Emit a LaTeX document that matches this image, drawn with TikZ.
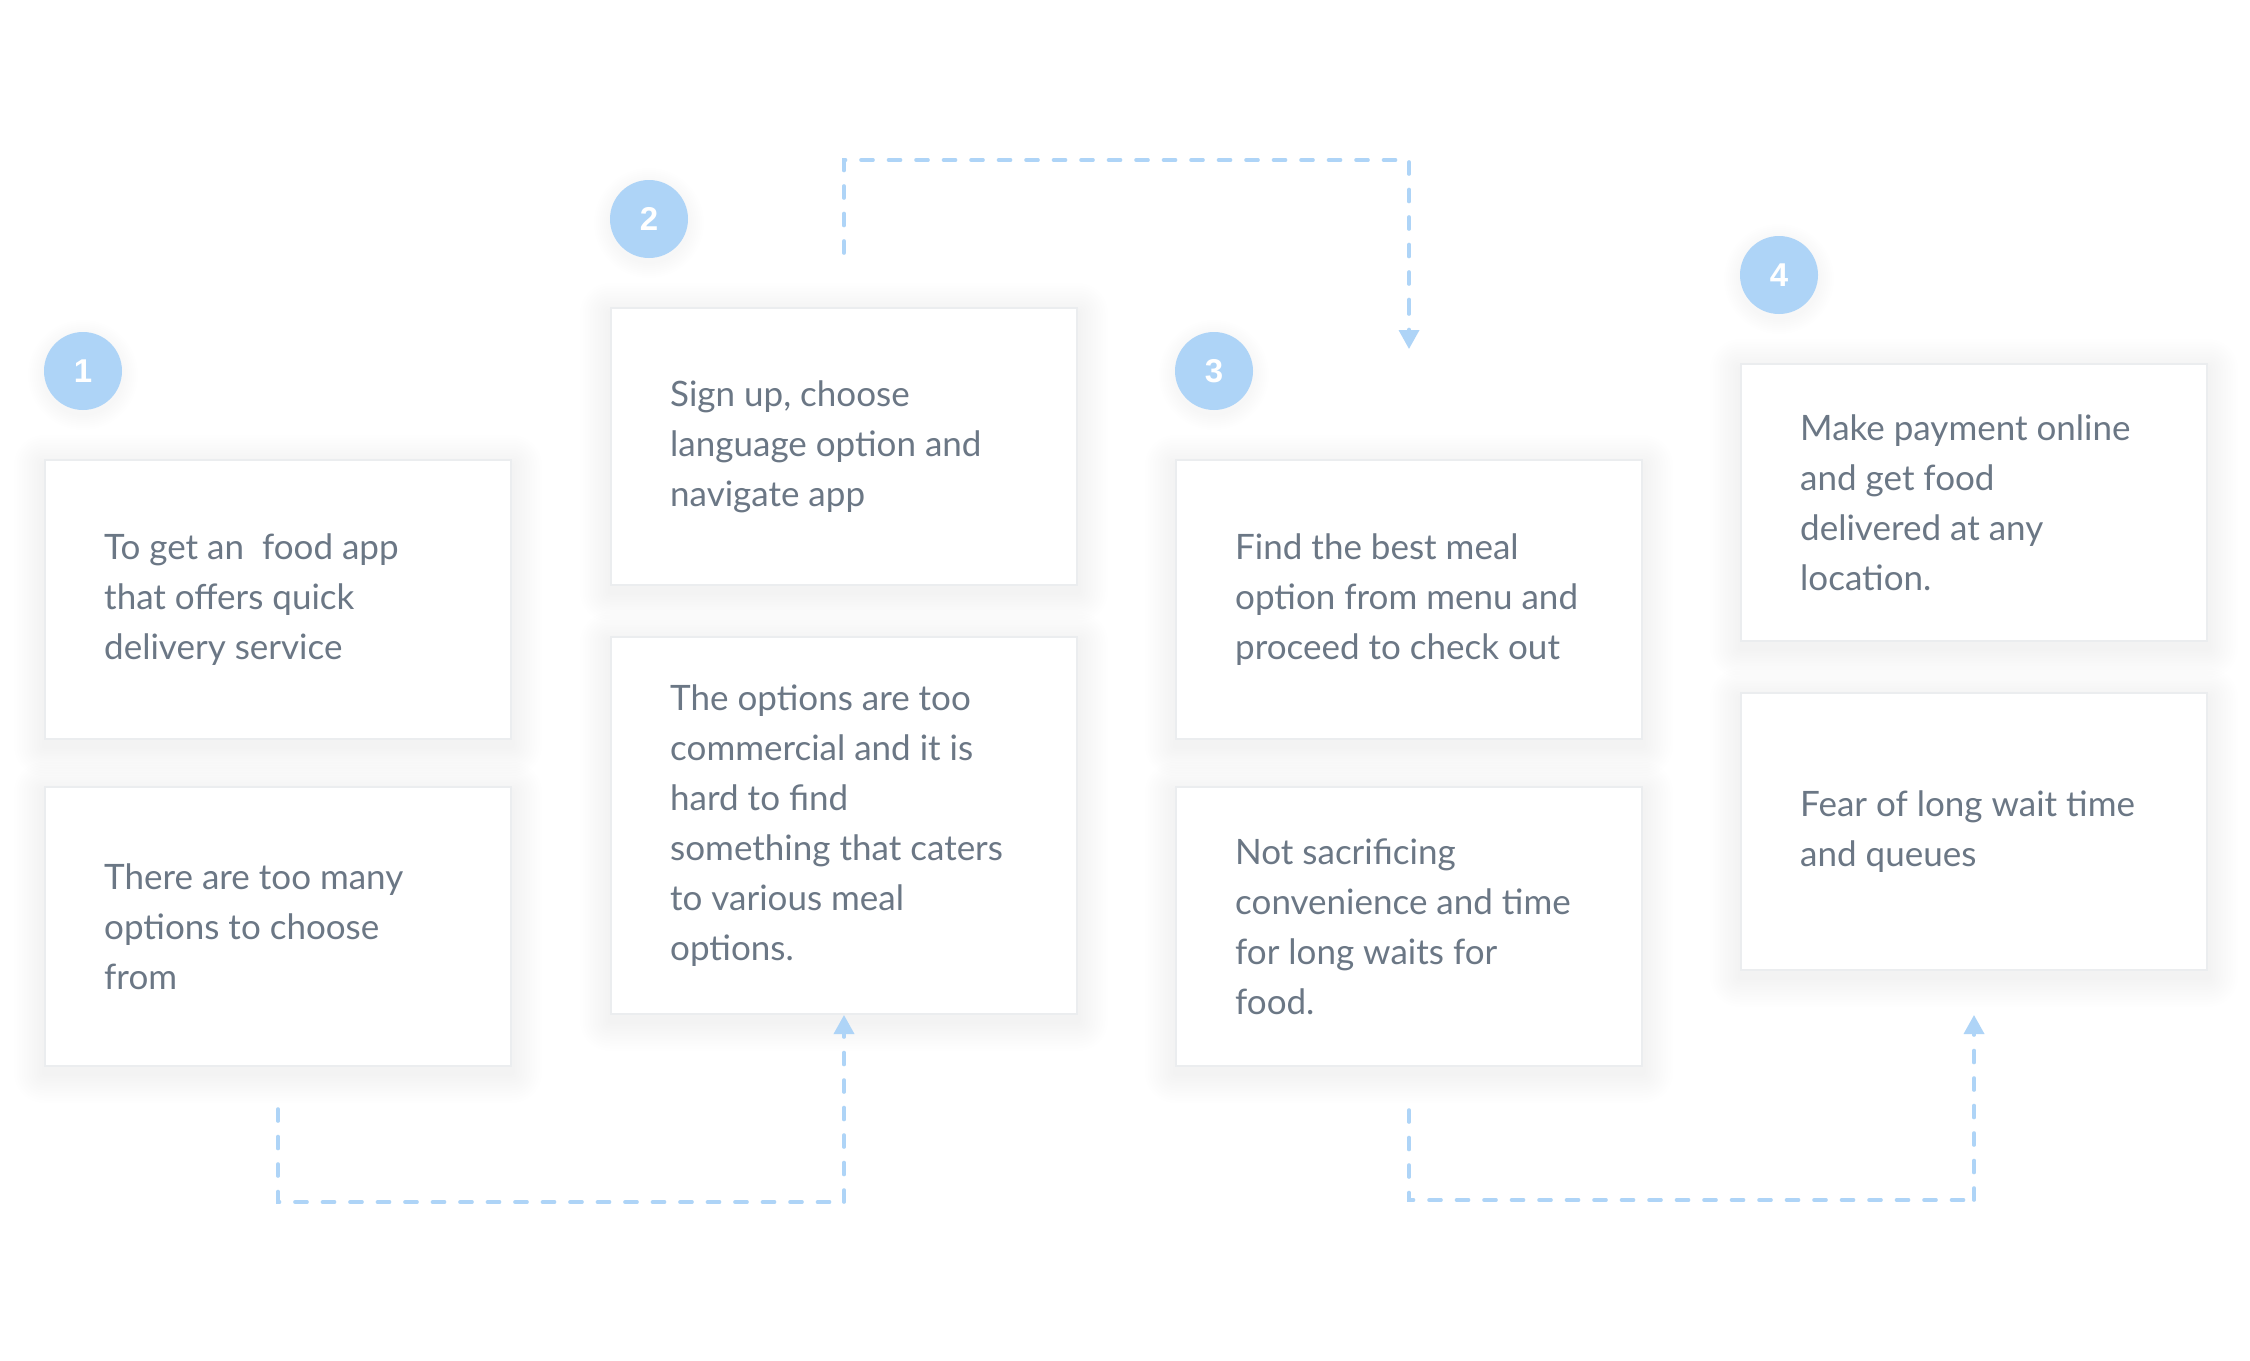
\documentclass[tikz,border=0pt]{standalone}
\usepackage{fontspec}
\setmainfont{Lato}
\newfontfamily\numfont{Liberation Sans}
\usetikzlibrary{arrows.meta,backgrounds}
\definecolor{txtgray}{HTML}{6B7785}
\definecolor{lblue}{HTML}{AED4F7}
\definecolor{cardline}{HTML}{EBEDEF}
\tikzset{
  card/.style={draw=cardline, line width=2pt, fill=white, minimum width=466pt, inner sep=0pt, anchor=north west},
  txt/.style={anchor=west, align=left, inner sep=0pt, text=txtgray, font=\fontsize{35}{50}\selectfont},
  badge/.style={circle, fill=lblue, minimum size=78pt, inner sep=0pt, text=white, font=\numfont\bfseries\fontsize{33}{33}\selectfont},
  conn/.style={draw=lblue, line width=3.6pt, line cap=round, dash pattern=on 12pt off 15.5pt},
  tip/.style={-{Triangle[width=20pt,length=19pt]}},
  shadowlayer/.style={fill=black, opacity=0.0033}
}
\newcommand\cardshadow[1]{%
  \foreach \k in {1,...,12}{%
    \fill[shadowlayer, rounded corners=\k*2.5pt] ([xshift=-\k*2.5pt, yshift=\k*2.5pt-6pt]#1.north west) rectangle ([xshift=\k*2.5pt, yshift=-\k*2.5pt-6pt]#1.south east);
  }}
\newcommand\badgeshadow[1]{%
  \foreach \k in {1,...,8}{%
    \fill[shadowlayer] ([yshift=-4pt]#1.center) circle[radius=39pt+\k*2pt];
  }}
\begin{document}
\begin{tikzpicture}[x=1pt,y=-1pt]
\useasboundingbox (0,0) rectangle (2250,1360);
% cards
\node[card, minimum height=279pt] (b1a) at (44,459) {};
\node[card, minimum height=279pt] (b1b) at (44,786) {};
\node[card, minimum height=277pt] (b2a) at (610,307) {};
\node[card, minimum height=377pt] (b2b) at (610,636) {};
\node[card, minimum height=279pt] (b3a) at (1175,459) {};
\node[card, minimum height=279pt] (b3b) at (1175,786) {};
\node[card, minimum height=277pt] (b4a) at (1740,363) {};
\node[card, minimum height=277pt] (b4b) at (1740,692) {};
% badges
\node[badge] (n1) at (83,371) {1};
\node[badge] (n2) at (649,219) {2};
\node[badge] (n3) at (1214,371) {3};
\node[badge] (n4) at (1779,275) {4};
% shadows
\begin{pgfonlayer}{background}
\fill[white] (0,0) rectangle (2250,1360);
\cardshadow{b1a}\cardshadow{b1b}\cardshadow{b2a}\cardshadow{b2b}
\cardshadow{b3a}\cardshadow{b3b}\cardshadow{b4a}\cardshadow{b4b}
\badgeshadow{n1}\badgeshadow{n2}\badgeshadow{n3}\badgeshadow{n4}
\end{pgfonlayer}
% texts
\node[txt] (t1a) at ([xshift=60pt]b1a.west) {To get an\ \ food app\\that offers quick\\delivery service};
\node[txt] (t1b) at ([xshift=60pt]b1b.west) {There are too many\\options to choose\\from};
\node[txt] (t2a) at ([xshift=60pt]b2a.west) {Sign up, choose\\language option and\\navigate app};
\node[txt] (t2b) at ([xshift=60pt]b2b.west) {The options are too\\commercial and it is\\hard to find\\something that caters\\to various meal\\options.};
\node[txt] (t3a) at ([xshift=60pt]b3a.west) {Find the best meal\\option from menu and\\proceed to check out};
\node[txt] (t3b) at ([xshift=60pt]b3b.west) {Not sacrificing\\convenience and time\\for long waits for\\food.};
\node[txt] (t4a) at ([xshift=60pt]b4a.west) {Make payment online\\and get food\\delivered at any\\location.};
\node[txt] (t4b) at ([xshift=60pt]b4b.west) {Fear of long wait time\\and queues};
% connectors
\coordinate (s1) at ([yshift=-42pt]b1b.south);
\coordinate (h1) at (b2b.south |- 0,1202);
\draw[conn] (s1) |- (h1);
\draw[conn, tip] (h1) -- (b2b.south);
\coordinate (s2) at ([yshift=54pt]b2a.north);
\coordinate (h2) at (s2 |- 0,160);
\coordinate (e2) at (b3a.north |- 0,349);
\draw[conn] (s2) -- (h2) -| ([yshift=-2pt]e2 |- 0,300);
\draw[conn, tip] ([yshift=-2pt]e2 |- 0,300) -- (e2);
\coordinate (s3) at ([yshift=-43pt]b3b.south);
\coordinate (h3) at (b4b.south |- 0,1200);
\coordinate (e3) at ([yshift=-44pt]b4b.south);
\draw[conn] (s3) |- (h3);
\draw[conn, tip] (h3) -- (e3);
\end{tikzpicture}
\end{document}
